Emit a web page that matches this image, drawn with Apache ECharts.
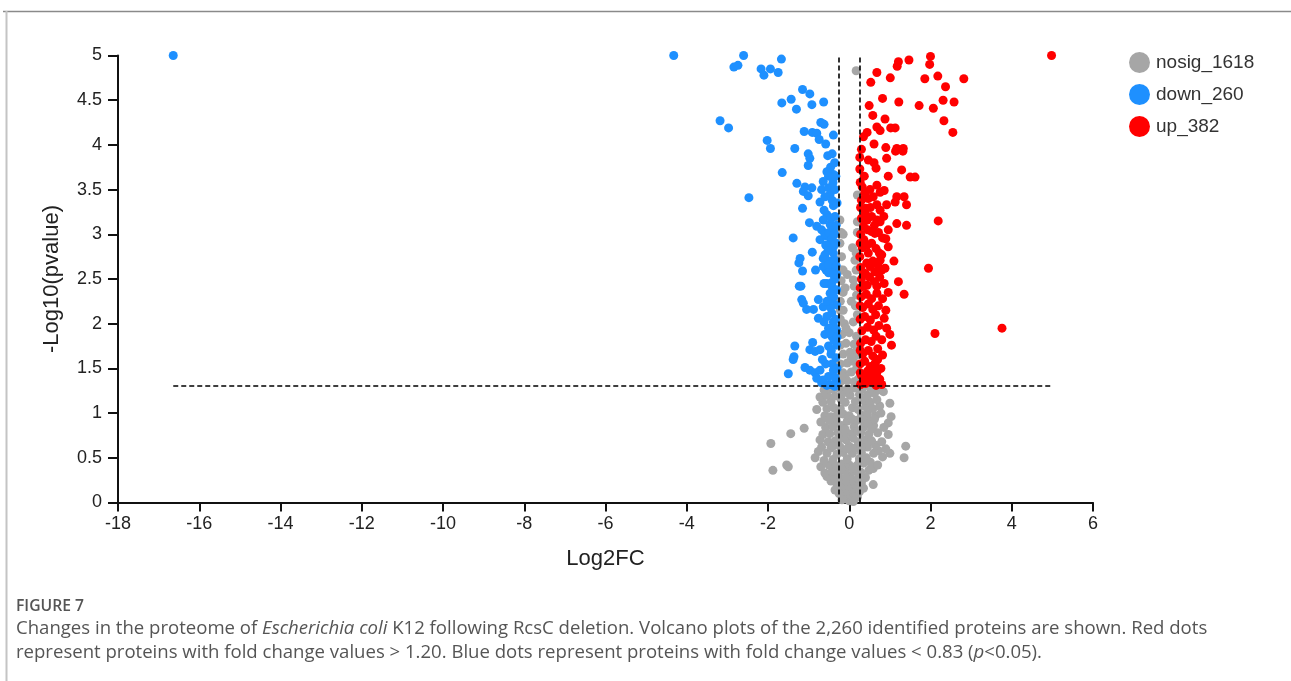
<!DOCTYPE html>
<html>
<head>
<meta charset="utf-8">
<script src="https://cdn.jsdelivr.net/npm/echarts@6/dist/echarts.min.js"></script>
<style>
html,body{margin:0;padding:0;background:#fff;}
#chart{width:1291px;height:681px;}
</style>
</head>
<body>
<div id="chart"></div>
<script>
// ---- DATA ----
const seriesNames = ['nosig_1618', 'down_260', 'up_382'];
const xTicks = [-18, 6, 2];       // min, max, interval
const yTicks = [0, 5, 0.5];
const fcDownCut = -0.27;           // log2(0.83)
const fcUpCut = 0.263;             // log2(1.20)
const pCut = 1.301;                // -log10(0.05)

const downPoints = [
[-16.64,5.0],[-4.32,5.0],[-2.60,5.0],[-2.84,4.87],[-2.74,4.89],[-2.17,4.85],[-1.94,4.85],[-2.10,4.78],[-1.75,4.81],[-1.67,4.96],
[-1.66,4.47],[-1.43,4.51],[-1.30,4.40],[-3.18,4.27],[-2.97,4.19],[-2.02,4.05],[-1.94,3.96],[-1.34,3.96],[-1.65,3.69],[-1.29,3.57],
[-2.47,3.41],[-1.38,2.96],[-1.24,2.68],[-1.23,2.42],
[-1.15,4.62],[-0.97,4.57],[-0.92,4.45],[-0.63,4.48],[-0.70,4.25],[-0.62,4.23],[-1.11,4.15],[-0.91,4.14],[-0.80,4.13],[-0.74,4.06],
[-0.39,4.11],[-0.58,4.01],[-1.01,3.90],[-0.97,3.85],[-1.01,3.77],[-0.53,3.88],[-0.46,3.75],[-0.39,3.67],[-0.51,3.65],[-1.09,3.53],
[-0.92,3.52],[-0.64,3.59],[-0.68,3.50],[-0.51,3.52],[-1.13,3.48],[-1.01,3.43],[-0.72,3.36],[-0.47,3.45],[-0.39,3.32],[-1.15,3.29],
[-0.55,3.22],[-0.64,3.16],[-0.98,3.13],[-0.80,3.09],[-0.68,3.05],[-0.47,3.11],[-0.39,3.05],[-0.55,2.98],[-0.72,2.94],[-0.47,2.90],
[-0.39,2.86],[-0.91,2.80],[-0.64,2.73],[-0.39,2.79],[-1.21,2.73],[-1.15,2.59],[-0.83,2.60],[-0.57,2.60],[-0.43,2.70],[-0.39,2.60],
[-0.55,2.45],[-0.43,2.42],
[-0.60,3.00],[-0.50,3.02],[-0.42,2.95],[-0.58,2.88],[-0.52,2.82],[-0.45,3.18],[-0.62,3.27],[-0.35,3.50],[-0.35,3.20],[-0.42,3.38],
[-0.60,3.42],[-0.55,3.70],[-0.42,3.90],[-0.36,3.80],[-0.36,3.00],[-0.50,2.65],[-0.35,2.50],
[-0.60,2.77],[-0.55,2.71],[-0.64,2.64],[-0.51,2.66],[-0.35,2.71],[-0.51,2.57],[-0.39,2.55],[-1.19,2.42],[-0.62,2.45],[-0.43,2.46],
[-0.31,2.38],[-0.47,2.34],[-1.17,2.27],[-0.76,2.27],[-1.13,2.23],[-1.05,2.16],[-0.88,2.16],[-0.64,2.19],[-0.43,2.27],[-0.31,2.21],
[-0.76,2.06],[-0.55,2.08],[-0.43,2.12],[-0.39,2.02],[-0.51,1.95],[-0.31,1.93],[-0.60,1.88],[-0.43,1.86],[-1.34,1.75],[-0.90,1.79],
[-1.36,1.63],[-1.38,1.60],[-0.97,1.71],[-0.84,1.69],[-0.72,1.71],[-0.51,1.75],[-0.31,1.76],[-1.50,1.44],[-1.09,1.51],[-0.97,1.48],
[-0.84,1.45],[-0.72,1.48],[-0.51,1.41],[-0.39,1.48],[-0.64,1.37],[-0.31,1.35],[-0.47,1.32],[-0.68,1.34],
[-0.35,1.40],[-0.42,1.55],[-0.33,1.62],[-0.45,1.66],[-0.38,1.82],[-0.48,1.90],[-0.34,2.05],[-0.46,2.18],[-0.38,2.30],[-0.55,2.25],
[-0.62,2.02],[-0.58,1.55],[-0.36,1.30],[-0.55,1.31],[-0.80,1.39],[-0.66,1.60],[-0.44,1.70],[-0.34,1.95],
[-0.32,3.10],[-0.33,2.90],[-0.32,2.65],[-0.31,2.55],[-0.30,3.35],[-0.33,3.65],[-0.40,3.58],[-0.30,1.50],[-0.30,1.85]
];

const upPoints = [
[4.98,5.0],[1.21,4.93],[1.47,4.95],[2.00,4.99],[1.98,4.90],[1.18,4.88],[0.68,4.81],[1.01,4.75],[0.53,4.70],[1.86,4.74],
[2.18,4.77],[2.37,4.65],[2.82,4.74],[0.82,4.52],[1.22,4.48],[1.72,4.44],[2.07,4.41],[2.31,4.50],[2.58,4.48],[0.49,4.44],
[0.58,4.33],[0.88,4.29],[2.33,4.27],[2.55,4.14],[0.68,4.20],[0.76,4.16],[1.02,4.19],[1.13,4.19],[0.44,4.14],[0.35,4.09],
[0.61,4.01],[0.90,3.97],[1.17,3.96],[1.33,3.96],[1.14,3.93],[1.32,3.93],[0.92,3.85],[0.26,3.86],[0.47,3.83],[0.61,3.80],
[0.66,3.74],[0.26,3.73],[1.29,3.72],[0.37,3.65],[0.96,3.65],[1.50,3.64],[1.62,3.64],[0.32,3.53],[0.68,3.55],[0.51,3.50],
[0.76,3.47],[0.86,3.49],[0.47,3.40],[0.59,3.42],[1.17,3.42],[1.35,3.42],[1.13,3.36],[1.41,3.33],[0.92,3.33],[0.76,3.27],
[0.68,3.33],[0.41,3.29],[0.39,3.24],[0.44,3.16],[0.68,3.16],[0.76,3.14],[0.96,3.05],[1.17,3.12],[1.41,3.10],[2.19,3.15],
[0.35,3.09],[0.55,3.03],[0.63,3.01],[0.36,2.94],[0.44,2.88],[0.82,2.96],[0.96,2.86],[0.74,2.79],[0.47,2.79],[1.10,2.70],
[1.95,2.62],[0.76,2.71],[0.51,2.64],[0.63,2.58],[0.80,2.60],[1.21,2.47],[0.68,2.42],[0.44,2.43],[0.35,2.57],
[0.26,2.75],[0.43,2.68],[0.80,2.77],[1.35,2.33],[2.11,1.89],[1.00,1.88],[1.04,1.76],[0.82,1.65],[0.80,1.32],[0.51,1.41],
[0.68,1.45],[3.76,1.95],[0.96,2.35],
[0.28,1.32],[0.40,1.33],[0.55,1.35],[0.66,1.31],[0.30,1.42],[0.45,1.47],[0.60,1.40],[0.75,1.38],[0.27,1.55],[0.38,1.58],
[0.52,1.52],[0.64,1.56],[0.78,1.50],[0.33,1.66],[0.47,1.70],[0.58,1.64],[0.70,1.72],[0.28,1.78],[0.40,1.82],[0.54,1.80],
[0.66,1.86],[0.80,1.82],[0.31,1.92],[0.45,1.96],[0.60,1.93],[0.73,1.98],[0.27,2.05],[0.38,2.08],[0.52,2.04],[0.65,2.10],
[0.86,2.06],[0.33,2.18],[0.47,2.22],[0.58,2.16],[0.72,2.20],[0.29,2.30],[0.42,2.33],[0.55,2.28],[0.68,2.34],[0.82,2.28],
[0.36,2.42],[0.30,2.50],[0.50,2.52],[0.62,2.47],[0.75,2.52],[0.28,2.63],[0.40,2.56],[0.58,2.70],[0.70,2.66],[0.32,2.85],
[0.55,2.90],[0.66,2.84],[0.28,3.00],[0.45,3.05],[0.72,3.02],[0.30,3.18],[0.55,3.20],[0.62,3.10],[0.30,3.38],[0.52,3.30],
[0.38,3.46],[0.85,3.20],[0.90,2.95],[0.88,2.62],[0.86,2.45],[0.90,2.15],[0.92,1.95],[0.70,1.60],[0.62,1.48],[0.36,1.38],
[0.27,3.58],[0.30,3.95],[0.28,3.30],[0.27,2.90],[0.27,2.40],[0.27,2.20],[0.27,1.70],[0.27,1.45]
];

const nosigPoints = [
[0.00,0.02],[-0.06,0.04],[0.06,0.05],[-0.12,0.08],[0.02,0.09],[0.12,0.10],[-0.20,0.12],[-0.04,0.13],[0.18,0.14],[-0.35,0.14],[0.08,0.15],
[-0.28,0.18],[-0.15,0.19],[0.00,0.18],[0.15,0.20],[0.30,0.22],[0.59,0.20],[-0.45,0.24],[-0.08,0.24],[0.08,0.25],[0.22,0.27],
[-0.22,0.27],[-0.55,0.29],[0.40,0.28],[-0.35,0.30],[0.02,0.30],
[-0.60,0.33],[-0.42,0.35],[-0.25,0.34],[-0.10,0.36],[0.12,0.35],[0.28,0.34],[0.48,0.36],[0.59,0.38],[-0.70,0.40],[-0.50,0.42],
[-0.32,0.41],[-0.18,0.43],[0.00,0.42],[0.18,0.41],[0.35,0.44],[0.52,0.45],[0.70,0.42],[-0.62,0.47],[-0.40,0.48],[-0.05,0.49],
[0.25,0.49],[0.42,0.50],[-0.84,0.50],[0.82,0.51],[1.00,0.55],[1.35,0.50],[-1.54,0.42],[-1.50,0.40],[-1.88,0.36],
[-0.76,0.57],[-0.55,0.55],[-0.30,0.54],[-0.15,0.56],[0.08,0.55],[0.30,0.56],[0.60,0.55],[0.72,0.58],[-0.68,0.62],[-0.45,0.61],
[-0.22,0.62],[0.00,0.63],[0.15,0.61],[0.45,0.62],[0.65,0.64],[0.90,0.60],[-0.72,0.70],[-0.52,0.68],[-0.35,0.69],[-0.08,0.70],
[0.22,0.68],[0.38,0.70],[0.55,0.69],[0.80,0.68],[1.39,0.63],[-1.93,0.66],
[-1.44,0.77],[-1.11,0.83],[-0.65,0.76],[-0.48,0.77],[-0.28,0.78],[-0.12,0.76],[0.05,0.77],[0.28,0.78],[0.48,0.76],[0.70,0.78],
[0.96,0.76],[-0.58,0.84],[-0.40,0.85],[-0.20,0.86],[0.12,0.85],[0.35,0.84],[0.60,0.86],[0.85,0.84],[0.96,0.89],[-0.70,0.90],
[-0.05,0.91],[0.20,0.92],[0.50,0.91],
[-0.60,0.97],[-0.45,0.96],[-0.30,0.98],[-0.15,0.99],[0.00,0.97],[0.30,0.98],[0.45,0.99],[0.65,0.97],[0.78,1.00],[1.03,0.96],
[-0.80,1.04],[-0.55,1.05],[-0.38,1.06],[-0.22,1.05],[0.08,1.06],[0.22,1.04],[0.40,1.07],[0.58,1.05],[0.75,1.08],[1.00,1.11],
[-0.65,1.12],[-0.45,1.13],[-0.10,1.12],[0.15,1.13],[0.35,1.14],[0.52,1.12],[0.68,1.15],
[-0.72,1.18],[-0.55,1.20],[-0.35,1.19],[-0.18,1.21],[0.02,1.20],[0.25,1.21],[0.45,1.20],[0.62,1.22],[0.84,1.24],[-0.62,1.26],
[-0.42,1.27],[-0.25,1.28],[-0.05,1.27],[0.12,1.28],[0.32,1.27],[0.52,1.28],[0.72,1.26],
[-0.25,0.10],[0.25,0.12],[-0.32,0.22],[0.35,0.16],[-0.20,0.38],[0.08,0.38],[-0.05,0.60],[0.30,0.62],[-0.25,0.71],[0.10,0.72],
[-0.32,0.92],[0.08,0.93],[0.35,0.92],[-0.20,1.15],[0.45,0.88],[-0.50,0.92],[0.62,0.93],[0.55,0.82],[-0.10,0.82],[0.20,0.80],
[-0.40,0.63],[0.25,0.45],[-0.08,0.28],[0.20,0.06],[-0.18,0.03],[0.10,0.01],
[-0.22,1.35],[-0.05,1.36],[0.12,1.35],[0.22,1.38],[-0.15,1.45],[0.05,1.46],[0.18,1.50],[-0.22,1.55],[-0.05,1.56],[0.10,1.58],
[-0.15,1.66],[0.02,1.68],[0.20,1.65],[-0.22,1.76],[-0.08,1.78],[0.12,1.77],[-0.18,1.88],[0.00,1.90],[0.18,1.86],[-0.12,2.00],
[0.10,2.02],[-0.22,2.05],[0.20,2.10],[-0.15,2.15],[0.15,2.20],[-0.22,2.25],[0.18,2.32],[-0.15,2.35],[0.12,2.42],[-0.20,2.48],
[0.10,2.49],[-0.20,2.60],[-0.15,2.60],[0.17,2.60],[0.14,2.71],[-0.19,2.75],[0.17,2.79],[-0.23,2.90],[-0.15,3.00],[-0.20,3.02],
[0.20,3.02],[-0.23,3.16],[0.20,3.14],[0.20,3.44],[0.17,4.83],
[-0.10,1.40],[0.05,1.62],[-0.08,1.95],[0.05,2.25],[-0.05,2.55],[-0.10,2.40],[0.08,2.85],[-0.20,1.42],[0.20,1.72],[-0.22,2.15]
];

const captionLabel = 'FIGURE 7';
const captionLine1a = 'Changes in the proteome of ';
const captionLine1b = 'Escherichia coli';
const captionLine1c = ' K12 following RcsC deletion. Volcano plots of the 2,260 identified proteins are shown. Red dots';
const captionLine2a = 'represent proteins with fold change values > 1.20. Blue dots represent proteins with fold change values < 0.83 (';
const captionLine2b = 'p';
const captionLine2c = '<0.05).';

// ---- CHART ----
const chart = echarts.init(document.getElementById('chart'), null, {renderer: 'canvas'});
const allX = downPoints.concat(upPoints, nosigPoints).map(p => p[0]);
const xMinData = Math.min.apply(null, allX);
const xMaxData = Math.max.apply(null, allX);

const axisFont = {fontFamily: '"Liberation Sans", Arial, sans-serif', fontSize: 18, color: '#222'};
const capFont = '"Open Sans", Lato, sans-serif';
const capColor = '#555';

// fit caption font size to the reference line width
const mctx = document.createElement('canvas').getContext('2d');
function textW(style, size, txt) { mctx.font = style + ' ' + size + 'px ' + capFont; return mctx.measureText(txt).width; }
const baseSize = 17;
const line1W = textW('normal', baseSize, captionLine1a + captionLine1c) + textW('italic', baseSize, captionLine1b);
const capSize = Math.max(14, Math.min(20, baseSize * 1192 / line1W));
const figW = textW('600', 12, captionLabel);
const figSize = Math.max(10, Math.min(16, 12 * 68 / figW));

const dashStyle = {color: '#000', width: 1.6, type: [5, 3]};

chart.setOption({
  animation: false,
  backgroundColor: '#fff',
  grid: {left: 118, right: 198, top: 55.5, height: 447, containLabel: false},
  legend: {
    data: seriesNames,
    orient: 'vertical',
    left: 1129, top: 52,
    padding: 0,
    icon: 'circle',
    itemWidth: 21, itemHeight: 21, itemGap: 11,
    textStyle: {fontFamily: '"Liberation Sans", Arial, sans-serif', fontSize: 19, color: '#333', padding: [0,0,0,1]}
  },
  xAxis: {
    type: 'value', min: xTicks[0], max: xTicks[1], interval: xTicks[2],
    name: 'Log2FC', nameLocation: 'middle', nameGap: 45,
    nameTextStyle: {fontFamily: '"Liberation Sans", Arial, sans-serif', fontSize: 22, color: '#222'},
    axisLine: {show: true, onZero: false, lineStyle: {color: '#111', width: 2}},
    axisTick: {show: true, inside: false, length: 9, lineStyle: {color: '#111', width: 2}},
    axisLabel: Object.assign({margin: 13}, axisFont),
    splitLine: {show: false}
  },
  yAxis: {
    type: 'value', min: yTicks[0], max: yTicks[1], interval: yTicks[2],
    name: '-Log10(pvalue)', nameLocation: 'middle', nameGap: 55,
    nameTextStyle: {fontFamily: '"Liberation Sans", Arial, sans-serif', fontSize: 22, color: '#222'},
    axisLine: {show: true, onZero: false, lineStyle: {color: '#111', width: 2}},
    axisTick: {show: true, inside: false, length: 10, lineStyle: {color: '#111', width: 2}},
    axisLabel: Object.assign({margin: 16}, axisFont),
    splitLine: {show: false}
  },
  series: [
    {name: seriesNames[0], type: 'scatter', data: nosigPoints, symbolSize: 9,
     itemStyle: {color: '#a6a6a6', opacity: 1}, emphasis: {disabled: true}, silent: true},
    {name: seriesNames[1], type: 'scatter', data: downPoints, symbolSize: 9,
     itemStyle: {color: '#1e90ff', opacity: 1}, emphasis: {disabled: true}, silent: true},
    {name: seriesNames[2], type: 'scatter', data: upPoints, symbolSize: 9,
     itemStyle: {color: '#ff0000', opacity: 1}, emphasis: {disabled: true}, silent: true,
     markLine: {
       silent: true, symbol: ['none', 'none'], label: {show: false}, lineStyle: dashStyle,
       emphasis: {disabled: true},
       data: [
         [{coord: [xMinData, pCut]}, {coord: [xMaxData, pCut]}],
         [{coord: [fcDownCut, yTicks[0]]}, {coord: [fcDownCut, yTicks[1]]}],
         [{coord: [fcUpCut, yTicks[0]]}, {coord: [fcUpCut, yTicks[1]]}]
       ]
     }}
  ],
  graphic: [
    {type: 'line', silent: true, shape: {x1: 3, y1: 11.5, x2: 1291, y2: 11.5}, style: {stroke: '#8a8a8a', lineWidth: 1.5}},
    {type: 'line', silent: true, shape: {x1: 6.5, y1: 11, x2: 6.5, y2: 681}, style: {stroke: '#c4c4c4', lineWidth: 2}},
    {type: 'text', silent: true, left: 16, top: 599,
     style: {text: captionLabel, font: '600 ' + figSize.toFixed(1) + 'px ' + capFont, fill: capColor}},
    {type: 'text', silent: true, left: 16, top: 619,
     style: {
       text: '{a|' + captionLine1a + '}{b|' + captionLine1b + '}{a|' + captionLine1c + '}',
       rich: {
         a: {fontFamily: capFont, fontSize: capSize, fill: capColor},
         b: {fontFamily: capFont, fontSize: capSize, fontStyle: 'italic', fill: capColor}
       }
     }},
    {type: 'text', silent: true, left: 16, top: 643,
     style: {
       text: '{a|' + captionLine2a + '}{b|' + captionLine2b + '}{a|' + captionLine2c + '}',
       rich: {
         a: {fontFamily: capFont, fontSize: capSize, fill: capColor},
         b: {fontFamily: capFont, fontSize: capSize, fontStyle: 'italic', fill: capColor}
       }
     }}
  ]
});
</script>
</body>
</html>
